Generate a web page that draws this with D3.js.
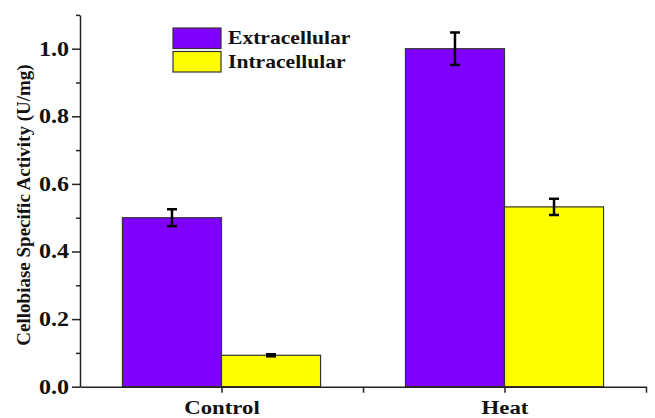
<!DOCTYPE html>
<html>
<head>
<meta charset="utf-8">
<script src="https://d3js.org/d3.v7.min.js"></script>
<style>
    body { margin: 0; background: #fff; }
    svg { display: block; }
    .axis path, .axis line { stroke: #222; stroke-width: 1.5px; }
    .axis text, .legend text, .title {
        font-family: "Liberation Serif", "Times New Roman", serif;
        font-weight: bold;
        fill: #111;
    }
</style>
</head>
<body>
<script>
    // data
    var groups = ["Control", "Heat"];
    var series = ["Extracellular", "Intracellular"];
    var colors = ["#7f00ff", "#ffff00"];
    var extraValues = [0.500, 1.000];
    var extraErrors = [0.025, 0.048];
    var intraValues = [0.093, 0.532];
    var intraErrors = [0.003, 0.024];
    var yTickLabels = ["0.0", "0.2", "0.4", "0.6", "0.8", "1.0"];

    var W = 655, H = 418;
    var stretch = 1.2; // the picture's text is a bit wider than plain Times

    var svg = d3.select("body").append("svg")
        .attr("width", W)
        .attr("height", H);

    // groups sit at 1 and 2 on a 0.5 .. 2.5 axis
    var x = d3.scaleLinear().domain([0.5, 2.5]).range([80, 646]);
    var y = d3.scaleLinear().domain([0, 1.1]).range([386.7, 14.9]);
    var barW = 0.35;

    var data = [];
    groups.forEach(function(g, i) {
        data.push({g: i + 1, s: 0, v: extraValues[i], e: extraErrors[i]});
        data.push({g: i + 1, s: 1, v: intraValues[i], e: intraErrors[i]});
    });

    // bars
    svg.selectAll(".bar")
        .data(data)
        .enter().append("rect")
        .attr("class", "bar")
        .attr("x", function(d) { return d.s == 0 ? x(d.g - barW) : x(d.g); })
        .attr("width", x(1 + barW) - x(1))
        .attr("y", function(d) { return y(d.v); })
        .attr("height", function(d) { return y(0) - y(d.v); })
        .attr("fill", function(d) { return colors[d.s]; })
        .attr("stroke", "#333")
        .attr("stroke-width", 1.2);

    // error bars
    var cx = function(d) { return d.s == 0 ? x(d.g - barW / 2) : x(d.g + barW / 2); };
    var err = svg.selectAll(".err")
        .data(data)
        .enter().append("g")
        .attr("class", "err")
        .attr("stroke", "#000")
        .attr("stroke-width", 2.5);
    err.append("line")
        .attr("x1", cx).attr("x2", cx)
        .attr("y1", function(d) { return y(d.v + d.e); })
        .attr("y2", function(d) { return y(d.v - d.e); });
    err.append("line")
        .attr("x1", function(d) { return cx(d) - 5; })
        .attr("x2", function(d) { return cx(d) + 5; })
        .attr("y1", function(d) { return y(d.v + d.e); })
        .attr("y2", function(d) { return y(d.v + d.e); });
    err.append("line")
        .attr("x1", function(d) { return cx(d) - 5; })
        .attr("x2", function(d) { return cx(d) + 5; })
        .attr("y1", function(d) { return y(d.v - d.e); })
        .attr("y2", function(d) { return y(d.v - d.e); });

    // y axis: minor ticks first, then labelled majors
    svg.append("g")
        .attr("class", "axis")
        .attr("transform", "translate(" + x(0.5) + ",0)")
        .call(d3.axisLeft(y).tickValues([0.1, 0.3, 0.5, 0.7, 0.9, 1.1]).tickSize(4).tickFormat(""))
        .select(".domain").remove();

    var yAxis = svg.append("g")
        .attr("class", "axis")
        .attr("transform", "translate(" + x(0.5) + ",0)")
        .call(d3.axisLeft(y)
            .tickValues([0, 0.2, 0.4, 0.6, 0.8, 1.0])
            .tickSize(8)
            .tickSizeOuter(0)
            .tickFormat(function(d, i) { return yTickLabels[i]; }));
    yAxis.selectAll("text")
        .style("font-size", "20px")
        .attr("x", -11 / stretch)
        .attr("transform", "scale(" + stretch + ",1)");

    // x axis
    var xAxis = svg.append("g")
        .attr("class", "axis")
        .attr("transform", "translate(0," + y(0) + ")")
        .call(d3.axisBottom(x)
            .tickValues([1, 1.5, 2, 2.5])
            .tickSize(6)
            .tickSizeOuter(0)
            .tickFormat(function(d) { return d % 1 == 0 ? groups[d - 1] : ""; }));
    xAxis.selectAll("text")
        .style("font-size", "19px")
        .attr("y", 27)
        .attr("dy", 0)
        .attr("transform", "scale(" + stretch + ",1)");

    // y title
    svg.append("text")
        .attr("class", "title")
        .attr("transform", "translate(30,205) rotate(-90)")
        .attr("text-anchor", "middle")
        .style("font-size", "19px")
        .text("Cellobiase Specific Activity (U/mg)");

    // legend
    var legend = svg.append("g").attr("class", "legend");
    series.forEach(function(s, i) {
        var row = legend.append("g")
            .attr("transform", "translate(173," + (28 + i * 23.5) + ")");
        row.append("rect")
            .attr("width", 48)
            .attr("height", 20.5)
            .attr("fill", colors[i])
            .attr("stroke", "#333")
            .attr("stroke-width", 1.2);
        row.append("text")
            .attr("x", 55 / stretch)
            .attr("y", 16.5)
            .attr("transform", "scale(" + stretch + ",1)")
            .style("font-size", "18px")
            .text(s);
    });
</script>
</body>
</html>
